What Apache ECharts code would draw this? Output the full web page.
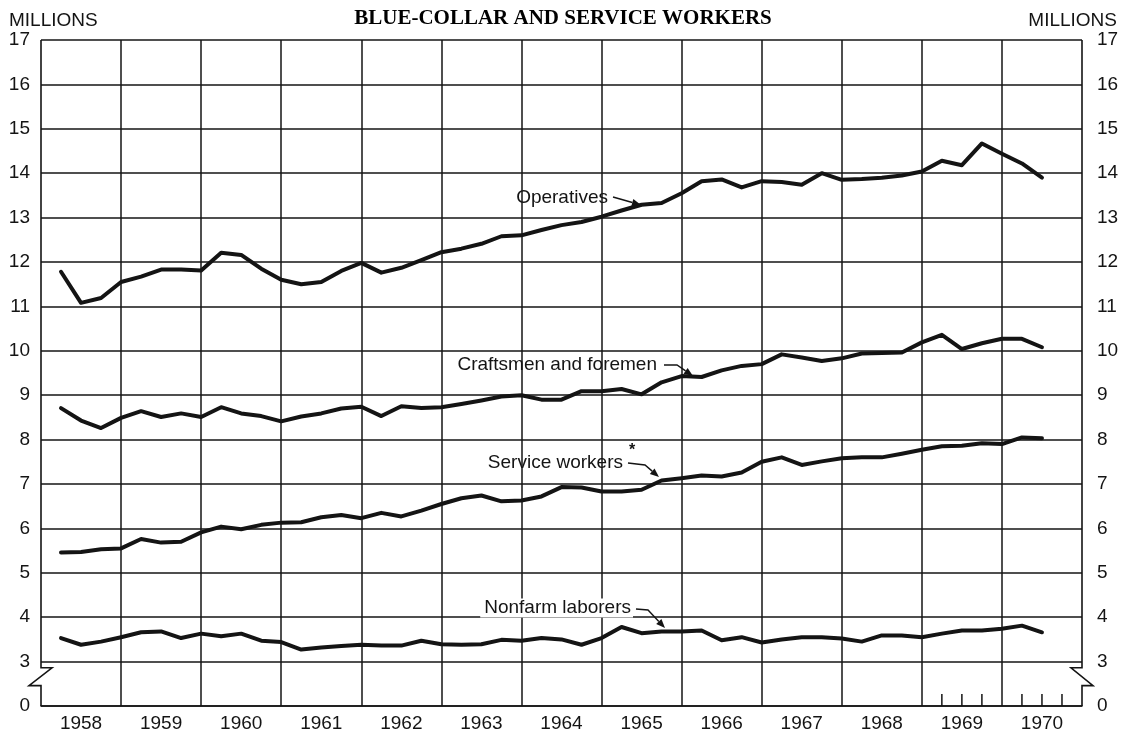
<!DOCTYPE html>
<html>
<head>
<meta charset="utf-8">
<script src="https://cdn.jsdelivr.net/npm/echarts@6/dist/echarts.min.js"></script>
<style>
  html, body { margin: 0; padding: 0; background: #fff; }
  #chart { width: 1123px; height: 738px; }
</style>
</head>
<body>
<div id="chart"></div>
<script>
// ---------- data ----------
const years = ['1958','1959','1960','1961','1962','1963','1964','1965','1966','1967','1968','1969','1970'];
// quarterly observations 1958 Q1 .. 1970 Q2 (millions)
const operatives = [11.78, 11.08, 11.19, 11.55, 11.67, 11.83, 11.83, 11.81, 12.21, 12.16,
  11.85, 11.60, 11.50, 11.55, 11.80, 11.98, 11.76, 11.87, 12.04, 12.22,
  12.30, 12.41, 12.58, 12.60, 12.72, 12.83, 12.90, 13.02, 13.16, 13.29,
  13.33, 13.55, 13.82, 13.86, 13.68, 13.82, 13.80, 13.74, 14.00, 13.85,
  13.87, 13.90, 13.95, 14.04, 14.28, 14.18, 14.67, 14.44, 14.22, 13.90];
const craftsmen = [8.71, 8.43, 8.26, 8.49, 8.64, 8.51, 8.59, 8.51, 8.73, 8.59,
  8.53, 8.41, 8.52, 8.59, 8.70, 8.74, 8.53, 8.75, 8.71, 8.73,
  8.80, 8.88, 8.97, 9.00, 8.90, 8.90, 9.09, 9.09, 9.14, 9.02,
  9.29, 9.43, 9.41, 9.56, 9.66, 9.70, 9.92, 9.85, 9.77, 9.83,
  9.94, 9.95, 9.96, 10.19, 10.36, 10.04, 10.17, 10.27, 10.27, 10.08];
const serviceWorkers = [5.46, 5.47, 5.53, 5.55, 5.76, 5.68, 5.70, 5.91, 6.04, 5.98,
  6.08, 6.13, 6.14, 6.25, 6.30, 6.23, 6.35, 6.27, 6.40, 6.55,
  6.68, 6.74, 6.61, 6.63, 6.72, 6.93, 6.92, 6.83, 6.83, 6.87,
  7.08, 7.13, 7.19, 7.17, 7.26, 7.50, 7.60, 7.43, 7.51, 7.58,
  7.60, 7.60, 7.68, 7.77, 7.85, 7.86, 7.92, 7.90, 8.05, 8.03];
const nonfarmLaborers = [3.53, 3.38, 3.45, 3.55, 3.66, 3.68, 3.53, 3.63, 3.57, 3.63,
  3.47, 3.44, 3.27, 3.32, 3.35, 3.38, 3.36, 3.36, 3.47, 3.39,
  3.38, 3.39, 3.49, 3.47, 3.53, 3.50, 3.38, 3.53, 3.78, 3.64,
  3.68, 3.68, 3.70, 3.48, 3.55, 3.43, 3.50, 3.55, 3.55, 3.52,
  3.45, 3.59, 3.59, 3.55, 3.63, 3.70, 3.70, 3.74, 3.81, 3.66];
// quarter marks shown on the bottom axis for 1969-1970
const tickQuarters = [1969.25, 1969.5, 1969.75, 1970.25, 1970.5, 1970.75];
// the axis is broken between 0 and 3: the bottom position is labelled 0
const yTickLabels = {2: '0'};

// ---------- helpers ----------
const firstYear = +years[0];
const lastYear = +years[years.length - 1] + 1;
function quarterTime(i) { // i-th quarter, plotted at quarter end
  const y = firstYear + Math.floor(i / 4);
  const q = (i % 4) + 1;
  return y + q / 4;
}
function toPairs(arr) { return arr.map((v, i) => [quarterTime(i), v]); }

const INK = '#141414';
const FONT = '"Liberation Sans", Arial, sans-serif';

const chart = echarts.init(document.getElementById('chart'), null, {renderer: 'canvas'});

function lineSeries(name, arr) {
  return {
    name: name, type: 'line', xAxisIndex: 1, yAxisIndex: 0,
    data: toPairs(arr), showSymbol: false, symbol: 'none', silent: true,
    lineStyle: {color: INK, width: 4, join: 'round', cap: 'round'},
    z: 5
  };
}

function arrow(points) {
  const n = points.length;
  const P = points[n - 1], Q = points[n - 2];
  let dx = P[0] - Q[0], dy = P[1] - Q[1];
  const L = Math.sqrt(dx * dx + dy * dy); dx /= L; dy /= L;
  const hl = 9, hw = 3.6;
  const bx = P[0] - dx * hl, by = P[1] - dy * hl;
  const pts = points.slice(0, n - 1).concat([[bx, by]]);
  return [
    {type: 'polyline', shape: {points: pts}, style: {stroke: INK, lineWidth: 1.4, fill: null}, z: 20},
    {type: 'polygon', shape: {points: [P, [bx - dy * hw, by + dx * hw], [bx + dy * hw, by - dx * hw]]},
     style: {fill: INK}, z: 20}
  ];
}
function label(text, x, y, extra) {
  return {
    type: 'text', x: x, y: y, z: 20,
    style: Object.assign({text: text, font: '19px ' + FONT, fill: INK, align: 'right', verticalAlign: 'middle'}, extra || {})
  };
}
const fmtY = v => (yTickLabels[v] !== undefined ? yTickLabels[v] : String(v));

const option = {
  animation: false,
  backgroundColor: '#fff',
  grid: {left: 41, right: 41, top: 40, bottom: 32, containLabel: false},
  xAxis: [
    {
      type: 'category', data: years, boundaryGap: true, position: 'bottom',
      axisLine: {show: false}, axisTick: {show: false}, splitLine: {show: false},
      axisLabel: {color: INK, fontSize: 19, fontFamily: 'Liberation Sans', margin: 8}
    },
    {
      type: 'value', min: firstYear, max: lastYear, interval: 1, position: 'bottom',
      axisLabel: {show: false}, axisTick: {show: false},
      axisLine: {show: true, lineStyle: {color: INK, width: 1.6}},
      splitLine: {show: true, showMinLine: false, showMaxLine: false, lineStyle: {color: INK, width: 1.5}}
    }
  ],
  yAxis: [
    {
      type: 'value', min: 2, max: 17, interval: 1, position: 'left',
      axisLine: {show: false}, axisTick: {show: false},
      axisLabel: {color: INK, fontSize: 19, fontFamily: 'Liberation Sans', margin: 11, formatter: fmtY},
      splitLine: {show: true, lineStyle: {color: INK, width: 1.5}}
    },
    {
      type: 'value', min: 2, max: 17, interval: 1, position: 'right',
      axisLine: {show: false}, axisTick: {show: false}, splitLine: {show: false},
      axisLabel: {color: INK, fontSize: 19, fontFamily: 'Liberation Sans', margin: 15, formatter: fmtY}
    }
  ],
  series: [
    lineSeries('Operatives', operatives),
    lineSeries('Craftsmen and foremen', craftsmen),
    lineSeries('Service workers', serviceWorkers),
    lineSeries('Nonfarm laborers', nonfarmLaborers),
    {
      // frame with axis-break marks on both sides
      type: 'custom', xAxisIndex: 1, yAxisIndex: 0, silent: true, clip: false, z: 6,
      data: [[firstYear, 17]],
      renderItem: function (params, api) {
        const tl = api.coord([firstYear, 17]);
        const bl = api.coord([firstYear, 2]);
        const tr = api.coord([lastYear, 17]);
        const bTop = api.coord([firstYear, 2.86])[1];
        const bBot = api.coord([firstYear, 2.46])[1];
        const xl = tl[0], xr = tr[0];
        const st = {stroke: INK, lineWidth: 1.6, fill: null};
        return {type: 'group', children: [
          {type: 'polyline', shape: {points: [[xl, tl[1]], [xl, bTop], [xl + 11, bTop], [xl - 12, bBot], [xl, bBot], [xl, bl[1]]]}, style: st},
          {type: 'polyline', shape: {points: [[xr, tl[1]], [xr, bTop], [xr - 11, bTop], [xr + 11, bBot], [xr, bBot], [xr, bl[1]]]}, style: st}
        ]};
      }
    },
    {
      // quarter ticks on the bottom axis
      type: 'custom', xAxisIndex: 1, yAxisIndex: 0, silent: true, z: 6,
      data: tickQuarters.map(t => [t, 2]),
      renderItem: function (params, api) {
        const p = api.coord([api.value(0), 2]);
        return {type: 'line', shape: {x1: p[0], y1: p[1], x2: p[0], y2: p[1] - 12},
          style: {stroke: INK, lineWidth: 1.5}};
      }
    }
  ],
  graphic: [
    {type: 'text', x: 563, y: 19, z: 20, style: {text: 'BLUE-COLLAR AND SERVICE WORKERS',
      font: 'bold 21px "Liberation Serif", serif', fill: '#000', align: 'center', verticalAlign: 'middle'}},
    {type: 'text', x: 9, y: 21, z: 20, style: {text: 'MILLIONS', font: '19px ' + FONT, fill: INK, align: 'left', verticalAlign: 'middle'}},
    {type: 'text', x: 1117, y: 21, z: 20, style: {text: 'MILLIONS', font: '19px ' + FONT, fill: INK, align: 'right', verticalAlign: 'middle'}},
    label('Operatives', 608, 198),
    ...arrow([[613, 197], [641, 205]]),
    label('Craftsmen and foremen', 657, 365),
    ...arrow([[664, 365], [677, 365], [693, 376]]),
    label('Service workers', 623, 463),
    {type: 'text', x: 632, y: 451, z: 20, style: {text: '*', font: 'bold 16px ' + FONT, fill: INK, align: 'center', verticalAlign: 'middle'}},
    ...arrow([[628, 463], [645, 465], [659, 477]]),
    label('Nonfarm laborers', 633, 608, {backgroundColor: '#fff', padding: [0, 2, 0, 4]}),
    ...arrow([[636, 609], [648, 610], [665, 628]])
  ]
};

chart.setOption(option);
</script>
</body>
</html>
